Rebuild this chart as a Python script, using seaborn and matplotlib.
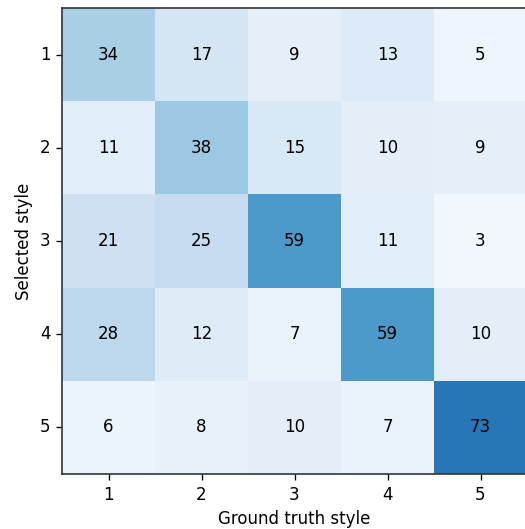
import numpy as np
import pandas as pd
import seaborn as sns
import matplotlib.pyplot as plt

labels = ["1", "2", "3", "4", "5"]
row1 = [34, 17, 9, 13, 5]
row2 = [11, 38, 15, 10, 9]
row3 = [21, 25, 59, 11, 3]
row4 = [28, 12, 7, 59, 10]
row5 = [6, 8, 10, 7, 73]

df = pd.DataFrame([row1, row2, row3, row4, row5], index=labels, columns=labels)

# rendered at 120 dpi so fonts/ticks come out a bit larger
fig = plt.figure(figsize=(525 / 120, 529 / 120), dpi=120)
ax = fig.add_axes([62 / 525, 55 / 529, 465 / 525, 466 / 529])
sns.heatmap(df, ax=ax, cmap="Blues", vmin=0, vmax=100, annot=True, fmt="d",
            annot_kws={"color": "black", "fontsize": 10}, cbar=False)
for s in ax.spines.values():
    s.set_visible(True)
    s.set_color("#333333")
    s.set_linewidth(1.0)
ax.tick_params(axis="y", rotation=0)
ax.tick_params(length=3.5, width=0.8)
ax.set_xlabel("Ground truth style")
ax.set_ylabel("Selected style")
fig.savefig("out.png", dpi=120)
